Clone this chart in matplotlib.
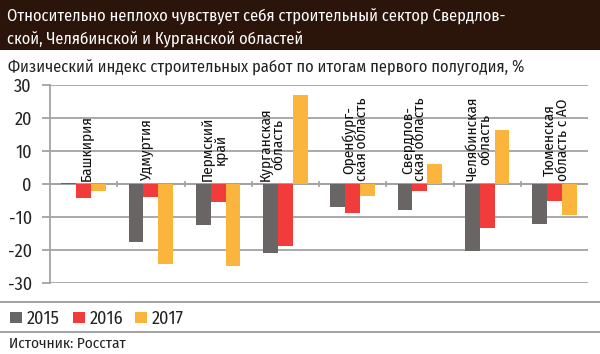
import numpy as np
import matplotlib.pyplot as plt
from matplotlib.patches import Rectangle
from matplotlib.lines import Line2D

plt.rcParams['font.family'] = ['Fira Sans Condensed', 'DejaVu Sans']

# Данные
regions = ["Башкирия", "Удмуртия", "Пермский\nкрай", "Курганская\nобласть",
           "Оренбург-\nская область", "Свердлов-\nская область",
           "Челябинская\nобласть", "Тюменская\nобласть с АО"]
years = ["2015", "2016", "2017"]
v2015 = [0.3, -17.6, -12.3, -20.8, -6.9, -7.9, -20.2, -12.1]
v2016 = [-4.2, -3.8, -5.4, -18.8, -8.7, -2.1, -13.4, -5.2]
v2017 = [-2.0, -24.2, -24.7, 27.1, -3.5, 6.1, 16.4, -9.4]
label_shift = [0.03, -0.06, -0.06, -0.2, 0.04, -0.09, -0.13, 0.03]
colors = ["#696565", "#f23c3c", "#fbb43c"]
grid_col = "#a3a3a3"

fig = plt.figure(figsize=(6, 3.54), dpi=100)

# Заголовок
fig.add_artist(Rectangle((0, 1 - 50 / 354), 1, 50 / 354, transform=fig.transFigure,
                         facecolor="#2b150b", edgecolor="none"))
fig.text(0.012, 1 - 17 / 354, "Относительно неплохо чувствует себя строительный сектор Свердлов-",
         color="white", fontsize=11.8, va="center", ha="left")
fig.text(0.012, 1 - 40 / 354, "ской, Челябинской и Курганской областей",
         color="white", fontsize=11.8, va="center", ha="left")
fig.text(0.013, 1 - 68 / 354, "Физический индекс строительных работ по итогам первого полугодия, %",
         color="#222222", fontsize=11.8, va="center", ha="left")

ax = fig.add_axes([50 / 600, 1 - 283 / 354, 538 / 600, 198 / 354])
x = np.arange(len(regions)) + 0.5
w = 0.22
for i, vals in enumerate([v2015, v2016, v2017]):
    ax.bar(x + (i - 1) * w, vals, width=w, color=colors[i], label=years[i], zorder=3)

for xi, name, s in zip(x, regions, label_shift):
    ax.text(xi + s, 0.8, name, rotation=90, ha="center", va="bottom",
            fontsize=11, color="#111111", linespacing=0.85, zorder=4)

ax.set_xlim(0, len(regions))
ax.set_ylim(-30, 30)
ax.set_yticks(range(-30, 31, 10))
ax.set_yticklabels([str(t) for t in range(-30, 31, 10)], fontsize=13, color="#222222")
ax.yaxis.grid(True, color=grid_col, lw=1.3, zorder=0)
ax.tick_params(axis="y", length=6, color=grid_col, width=1.3, pad=7)
ax.set_xticks([])
for sp in ["top", "right", "bottom"]:
    ax.spines[sp].set_visible(False)
ax.spines["left"].set_color(grid_col)
ax.spines["left"].set_linewidth(1.3)
# небольшие засечки на нулевой линии между группами
for b in range(1, len(regions)):
    ax.plot([b, b], [-0.7, 0.7], color=grid_col, lw=1.3, zorder=2)
ax.axhline(0, color=grid_col, lw=1.3, zorder=2)

# Разделители
fig.add_artist(Line2D([0, 1], [1 - 302 / 354] * 2, transform=fig.transFigure, color="#9a9a9a", lw=1.3))
fig.add_artist(Line2D([0, 1], [1 - 332 / 354] * 2, transform=fig.transFigure, color="#9a9a9a", lw=1.3))

# Легенда
lx = [10, 73, 135]
for i in range(3):
    fig.add_artist(Rectangle((lx[i] / 600, 1 - 323 / 354), 12 / 600, 11 / 354,
                             transform=fig.transFigure, facecolor=colors[i], edgecolor="none"))
    fig.text((lx[i] + 17) / 600, 1 - 319 / 354, years[i], fontsize=13, color="#222222",
             va="center", ha="left")

fig.text(0.015, 1 - 344 / 354, "Источник: Росстат", fontsize=11, color="#222222",
         va="center", ha="left")

fig.savefig("out.png", dpi=100)
